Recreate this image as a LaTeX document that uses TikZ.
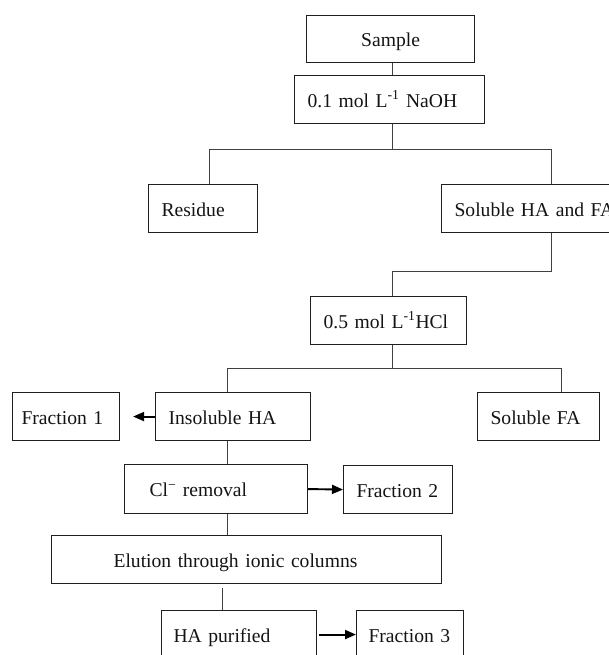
\documentclass[tikz,border=0pt]{standalone}
\usepackage{fontspec}
\setmainfont{Liberation Serif}
\usetikzlibrary{arrows.meta}
\begin{document}
\begin{tikzpicture}[x=1pt,y=-1pt,
  box/.style={draw=black!88, line width=1.1pt, rectangle, anchor=north west,
    minimum height=48pt, inner ysep=0pt, text height=16pt, text depth=1pt,
    font=\fontsize{19.6}{24}\selectfont, text=black!92, align=left},
  conn/.style={draw=black!75, line width=1pt},
  arr/.style={draw=black, line width=1.9pt, -{Triangle[length=11pt,width=9pt]}}
]
\clip (0,0) rectangle (609,655);
\fill[white] (0,0) rectangle (609,655);

\node[box, minimum height=47pt, inner xsep=10pt, text width=148pt, align=center] (sample) at (306,15) {\mbox{Sample}};
\node[box, inner xsep=13pt, text width=164pt] (naoh) at (294,75) {\mbox{0.1 mol L\textsuperscript{-1} NaOH}};
\node[box, inner xsep=13pt, text width=83pt] (residue) at (148,184) {\mbox{Residue}};
\node[box, inner xsep=13pt, text width=169pt] (solhafa) at (441,184) {\mbox{Soluble HA and FA}};
\node[box, inner xsep=13pt, text width=130pt] (hcl) at (310,296) {\mbox{0.5 mol L\textsuperscript{-1}HCl}};
\node[box, inner xsep=9pt, text width=89pt] (frac1) at (12,392) {\mbox{Fraction 1}};
\node[box, inner xsep=13pt, text width=129pt] (insha) at (155,392) {\mbox{Insoluble HA}};
\node[box, inner xsep=13pt, text width=96pt] (solfa) at (477,392) {\mbox{Soluble FA}};
\node[box, minimum height=49pt, inner xsep=25pt, text width=133pt] (clrem) at (124,464) {\mbox{Cl\textsuperscript{−} removal}};
\node[box, inner xsep=13pt, text width=83pt] (frac2) at (343,465) {\mbox{Fraction 2}};
\node[box, inner xsep=62pt, text width=266pt] (elution) at (51,535) {\mbox{Elution through ionic columns}};
\node[box, inner xsep=12pt, text width=131pt] (hapur) at (161,610) {\mbox{HA purified}};
\node[box, inner xsep=12pt, text width=83pt] (frac3) at (356,610) {\mbox{Fraction 3}};

% connectors
\draw[conn] ([xshift=2pt]sample.south) coordinate (p0) -- (p0 |- naoh.north);
\draw[conn] ([xshift=3pt]naoh.south) -- ++(0,25) coordinate (j1);
\draw[conn] ([xshift=61pt]residue.north west) |- (j1) -| ([xshift=110pt]solhafa.north west);
\draw[conn] ([xshift=110pt]solhafa.south west) -- ++(0,38) -| ([xshift=82pt]hcl.north west);
\draw[conn] ([xshift=82pt]hcl.south west) -- ++(0,23) coordinate (j3);
\draw[conn] ([xshift=72pt]insha.north west) |- (j3) -| ([xshift=84pt]solfa.north west);
\draw[conn] ([xshift=72pt]insha.south west) coordinate (p1) -- (p1 |- clrem.north);
\draw[conn] ([xshift=103pt]clrem.south west) coordinate (p2) -- (p2 |- elution.north);
\coordinate (e1) at ([yshift=-4pt]elution.south);
\draw[conn] ([xshift=61pt]hapur.north west) coordinate (p3) -- (p3 |- e1);

% arrows
\draw[arr] (insha.west) -- ([xshift=13pt]frac1.east);
\draw[arr] (clrem.east) -- (frac2.west);
\draw[arr] ([xshift=2pt]hapur.east) -- (frac3.west);
\end{tikzpicture}
\end{document}
